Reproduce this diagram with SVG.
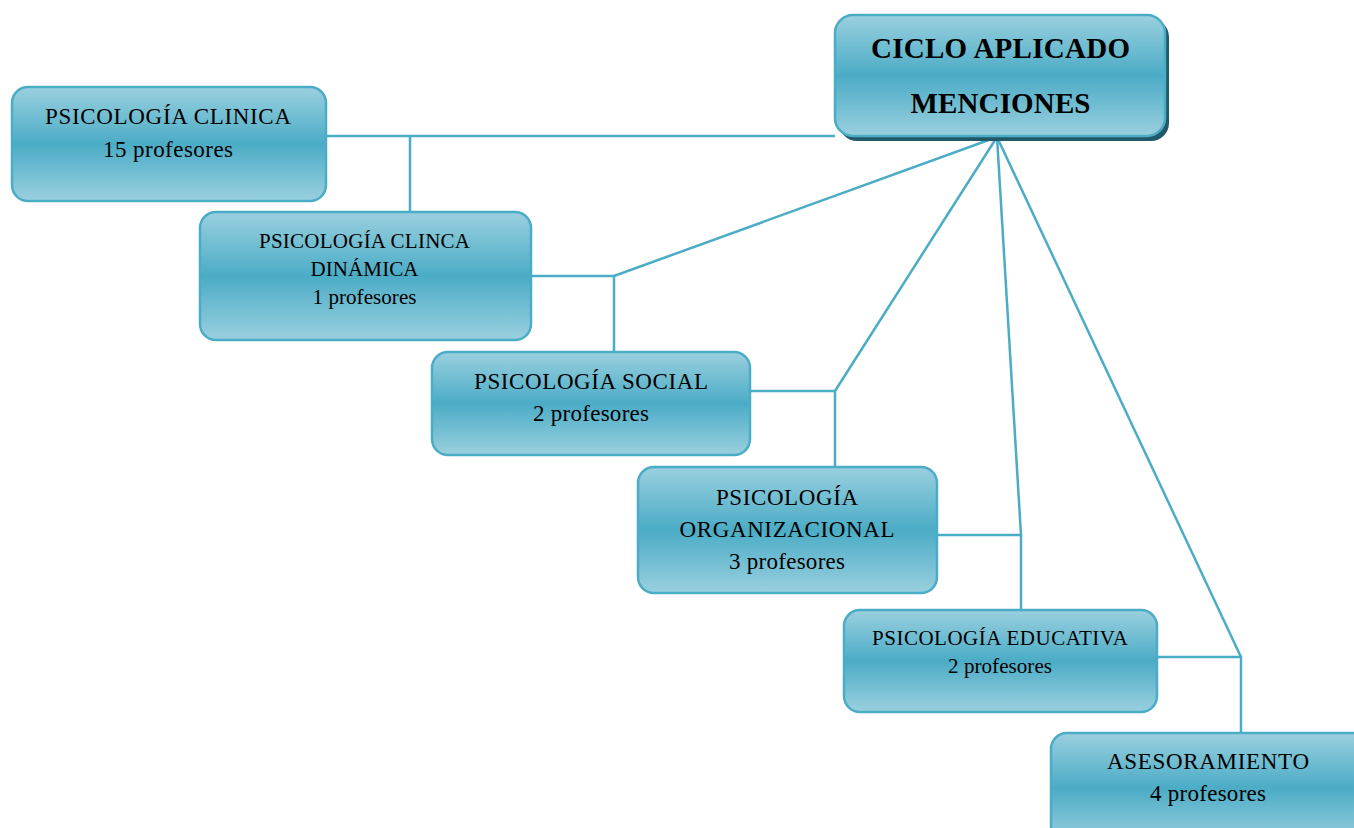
<svg xmlns="http://www.w3.org/2000/svg" width="1354" height="828" viewBox="0 0 1354 828">
<defs>
<linearGradient id="g" x1="0" y1="0" x2="0" y2="1">
<stop offset="0" stop-color="#9AD0DF"/>
<stop offset="0.5" stop-color="#4BACC6"/>
<stop offset="1" stop-color="#9AD0DF"/>
</linearGradient>
</defs>
<style>
.box{fill:url(#g);stroke:#4BACC6;stroke-width:2.5}
.c{fill:none;stroke:#4BACC6;stroke-width:2.5}
text{font-family:"Liberation Serif","Times New Roman",serif;fill:#000;text-anchor:middle}
.t20{font-size:23px}
.t18{font-size:21px}
.big{font-size:29px;font-weight:bold}
</style>
<rect width="1354" height="828" fill="#fff"/>
<g id="connectors">
<polyline class="c" points="326,136 835,136"/>
<polyline class="c" points="410,136 410,212"/>
<polyline class="c" points="997,137 614,276"/>
<polyline class="c" points="531,276 614,276 614,352"/>
<polyline class="c" points="997,137 835,391"/>
<polyline class="c" points="750,391 835,391 835,467"/>
<polyline class="c" points="997,137 1021,535"/>
<polyline class="c" points="937,535 1021,535 1021,610"/>
<polyline class="c" points="997,137 1241,657"/>
<polyline class="c" points="1157,657 1241,657 1241,733"/>
</g>
<g id="root">
<rect x="839" y="19" width="330" height="122" rx="18" fill="#215968"/>
<rect class="box" x="835" y="15" width="330" height="121" rx="18"/>
<text class="big" x="1000.5" y="58" textLength="259">CICLO APLICADO</text>
<text class="big" x="1000.5" y="113" textLength="180">MENCIONES</text>
</g>
<g id="n1">
<rect class="box" x="12" y="87" width="314" height="114" rx="16"/>
<text class="t20" x="168" y="124" textLength="246">PSICOLOGÍA CLINICA</text>
<text class="t20" x="168" y="157" textLength="130">15 profesores</text>
</g>
<g id="n2">
<rect class="box" x="200" y="212" width="331" height="128" rx="16"/>
<text class="t18" x="364.5" y="248" textLength="211">PSICOLOGÍA CLINCA</text>
<text class="t18" x="364.5" y="276" textLength="108">DINÁMICA</text>
<text class="t18" x="364.5" y="304" textLength="104">1 profesores</text>
</g>
<g id="n3">
<rect class="box" x="432" y="352" width="318" height="103" rx="16"/>
<text class="t20" x="591" y="389" textLength="234">PSICOLOGÍA SOCIAL</text>
<text class="t20" x="591" y="421" textLength="116">2 profesores</text>
</g>
<g id="n4">
<rect class="box" x="638" y="467" width="299" height="126" rx="16"/>
<text class="t20" x="787" y="505" textLength="142">PSICOLOGÍA</text>
<text class="t20" x="787" y="537" textLength="215">ORGANIZACIONAL</text>
<text class="t20" x="787" y="569" textLength="116">3 profesores</text>
</g>
<g id="n5">
<rect class="box" x="844" y="610" width="313" height="102" rx="16"/>
<text class="t18" x="1000" y="645" textLength="256">PSICOLOGÍA EDUCATIVA</text>
<text class="t18" x="1000" y="673" textLength="104">2 profesores</text>
</g>
<g id="n6">
<rect class="box" x="1051" y="733" width="320" height="110" rx="16"/>
<text class="t20" x="1208" y="769" textLength="202">ASESORAMIENTO</text>
<text class="t20" x="1208" y="801" textLength="116">4 profesores</text>
</g>
</svg>
